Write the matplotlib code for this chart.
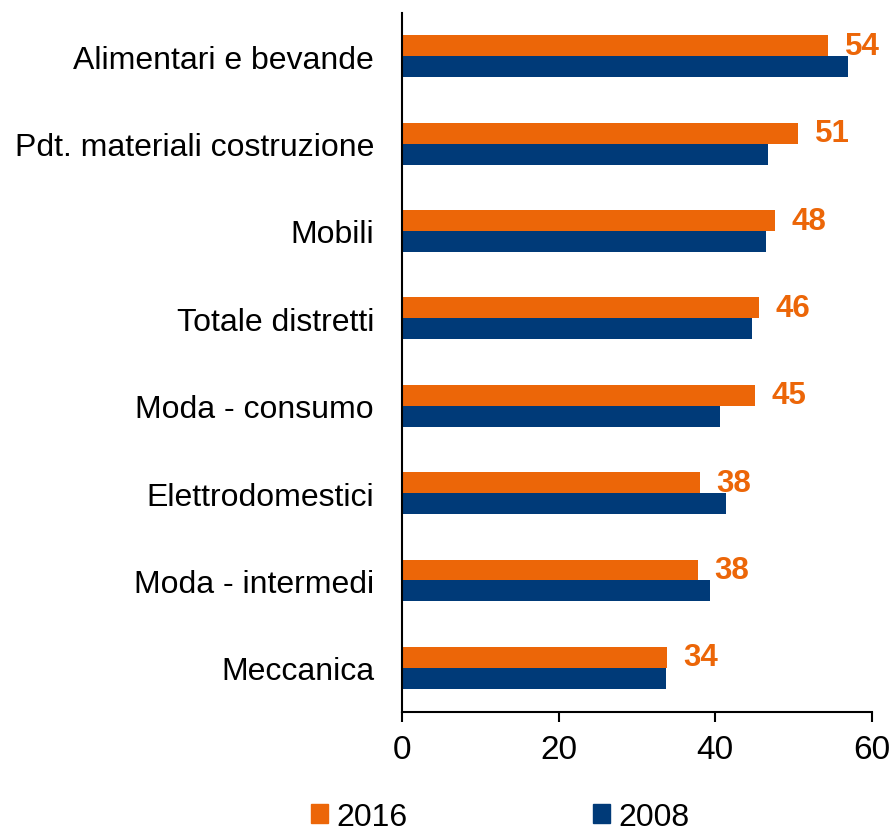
import matplotlib
matplotlib.use("Agg")
import matplotlib.pyplot as plt
from matplotlib.patches import Patch

plt.rcParams['font.family'] = ['Liberation Sans', 'DejaVu Sans']

categories = ["Alimentari e bevande", "Pdt. materiali costruzione", "Mobili",
              "Totale distretti", "Moda - consumo", "Elettrodomestici",
              "Moda - intermedi", "Meccanica"]
values_2016 = [54.4, 50.6, 47.6, 45.6, 45.1, 38.0, 37.8, 33.8]
values_2008 = [56.9, 46.7, 46.5, 44.7, 40.6, 41.4, 39.3, 33.7]
labels_2016 = ["54", "51", "48", "46", "45", "38", "38", "34"]
series_names = ["2016", "2008"]

c16 = "#EC6608"
c08 = "#003A78"

fig = plt.figure(figsize=(8.93, 8.37), dpi=100)
ax = fig.add_axes([0.450, 0.1487, 0.5265, 0.8351])

n = len(categories)
pos = list(range(n))
h = 0.24
ax.barh([p - h / 2 for p in pos], values_2016, height=h, color=c16)
ax.barh([p + h / 2 for p in pos], values_2008, height=h, color=c08)

for p, v, lab in zip(pos, values_2016, labels_2016):
    ax.annotate(lab, xy=(v, p - h / 2), xytext=(12, 0), textcoords="offset points",
                ha="left", va="center", fontsize=22.5, fontweight="bold", color=c16)

ax.set_ylim(n - 0.5, -0.5)
ax.set_xlim(0, 60)
ax.set_xticks([0, 20, 40, 60])
ax.set_yticks(pos)
ax.set_yticklabels(categories)
ax.tick_params(axis='y', length=0, pad=20, labelsize=23)
ax.tick_params(axis='x', length=7, width=1.5, pad=9, labelsize=24, direction='out')
for s in ["top", "right"]:
    ax.spines[s].set_visible(False)
ax.spines["left"].set_linewidth(1.5)
ax.spines["bottom"].set_linewidth(1.5)

handles = [Patch(color=c16), Patch(color=c08)]
fig.legend(handles, series_names, loc="center", bbox_to_anchor=(500 / 893, 1 - 818 / 837),
           ncol=2, frameon=False, fontsize=23, handlelength=0.55, handleheight=0.55,
           handletextpad=0.25, columnspacing=5.8, borderpad=0.1)

fig.savefig("out.png", dpi=100)
